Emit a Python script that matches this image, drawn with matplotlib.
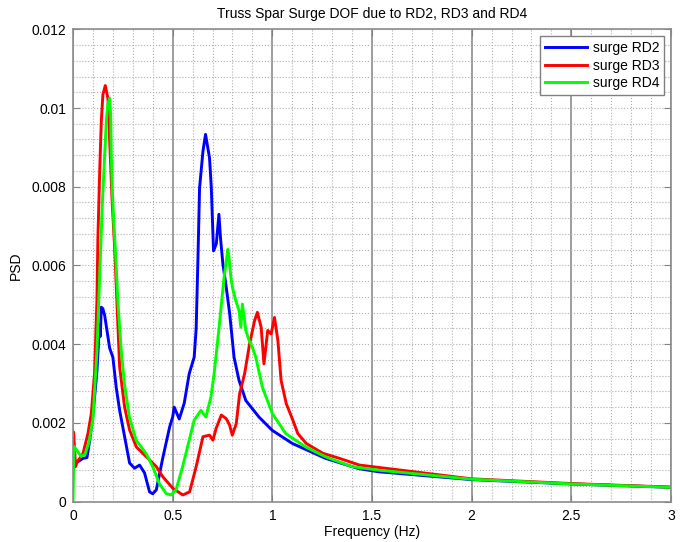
import numpy as np
import matplotlib.pyplot as plt
from matplotlib.ticker import MultipleLocator

# values (frequency in Hz, PSD)
f_rd2 = [0.0, 0.01, 0.02, 0.05, 0.07, 0.084, 0.10, 0.12, 0.133, 0.137, 0.142, 0.15, 0.159,
         0.184, 0.20, 0.217, 0.234, 0.259, 0.284, 0.309, 0.334, 0.359, 0.384, 0.40, 0.418,
         0.45, 0.485, 0.50, 0.508, 0.533, 0.558, 0.583, 0.608, 0.618, 0.627, 0.635, 0.652,
         0.665, 0.685, 0.694, 0.705, 0.719, 0.732, 0.740, 0.752, 0.769, 0.786, 0.808,
         0.833, 0.867, 0.933, 1.0, 1.1, 1.267, 1.433, 1.533, 2.0, 2.5, 3.0]
psd_rd2 = [0.0012, 0.00105, 0.001, 0.0011, 0.00112, 0.00156, 0.0022, 0.0033, 0.0045, 0.0042, 0.00494, 0.0049, 0.00473,
           0.0039, 0.00367, 0.0029, 0.00232, 0.00165, 0.00098, 0.00085, 0.00093, 0.00073, 0.00025, 0.0002, 0.0003,
           0.0011, 0.0019, 0.00215, 0.0024, 0.0021, 0.0025, 0.00325, 0.00367, 0.0044, 0.0062, 0.00797, 0.0089,
           0.00933, 0.00873, 0.00797, 0.00637, 0.00655, 0.0073, 0.0067, 0.00604, 0.00544, 0.00478, 0.00367,
           0.00308, 0.00257, 0.00215, 0.00181, 0.00148, 0.0011, 0.00084, 0.00076, 0.00056, 0.00045, 0.000365]

f_rd3 = [0.0, 0.003, 0.013, 0.02, 0.05, 0.075, 0.092, 0.108, 0.12, 0.125, 0.134, 0.142, 0.150,
         0.162, 0.175, 0.18, 0.187, 0.197, 0.209, 0.234, 0.259, 0.284, 0.318, 0.368, 0.418,
         0.451, 0.501, 0.551, 0.585, 0.618, 0.652, 0.685, 0.702, 0.718, 0.744, 0.769, 0.786,
         0.799, 0.819, 0.836, 0.861, 0.886, 0.911, 0.925, 0.944, 0.958, 0.977, 0.994, 1.011,
         1.028, 1.044, 1.07, 1.103, 1.128, 1.17, 1.253, 1.337, 1.437, 1.533, 2.0, 2.5, 3.0]
psd_rd3 = [0.0012, 0.00177, 0.00089, 0.001, 0.00122, 0.00173, 0.00224, 0.00325, 0.0051, 0.0067, 0.0084, 0.00966, 0.01034,
           0.01057, 0.01025, 0.00966, 0.0088, 0.00756, 0.00646, 0.00342, 0.0024, 0.00182, 0.00139, 0.00114, 0.00089,
           0.00063, 0.00034, 0.00017, 0.00025, 0.00089, 0.00165, 0.00169, 0.00156, 0.00186, 0.0022, 0.00211, 0.00194,
           0.00169, 0.00198, 0.00274, 0.00325, 0.00401, 0.0046, 0.00481, 0.00443, 0.0035, 0.00435, 0.00426, 0.00468,
           0.00409, 0.00308, 0.00249, 0.00207, 0.00173, 0.00148, 0.00123, 0.0011, 0.00093, 0.00087, 0.00058, 0.00046, 0.00037]

f_rd4 = [0.0, 0.005, 0.02, 0.04, 0.06, 0.08, 0.10, 0.12, 0.139, 0.147, 0.159, 0.167, 0.175,
         0.184, 0.189, 0.192, 0.197, 0.204, 0.212, 0.225, 0.242, 0.258, 0.283, 0.317, 0.367,
         0.40, 0.433, 0.467, 0.492, 0.517, 0.55, 0.583, 0.608, 0.642, 0.667, 0.692, 0.708,
         0.733, 0.758, 0.777, 0.783, 0.792, 0.80, 0.817, 0.833, 0.842, 0.85, 0.867, 0.883,
         0.90, 0.917, 0.95, 1.0, 1.067, 1.167, 1.267, 1.40, 1.533, 2.0, 2.5, 3.0]
psd_rd4 = [0.0, 0.0014, 0.0013, 0.00115, 0.0012, 0.0015, 0.0021, 0.0038, 0.00645, 0.00755, 0.0088, 0.00966, 0.0101,
           0.01025, 0.00983, 0.0088, 0.00797, 0.00713, 0.00646, 0.0051, 0.00384, 0.003, 0.00215, 0.00156, 0.00122,
           0.00089, 0.00046, 0.00021, 0.00017, 0.0003, 0.00089, 0.00156, 0.00207, 0.00232, 0.00215, 0.00266, 0.00325,
           0.00443, 0.0057, 0.00641, 0.0062, 0.0057, 0.00544, 0.0051, 0.00485, 0.00443, 0.00502, 0.00435, 0.0041,
           0.00392, 0.00367, 0.00291, 0.00224, 0.00173, 0.00139, 0.00114, 0.00089, 0.0008, 0.00057, 0.00045, 0.000365]

labels = ['surge RD2', 'surge RD3', 'surge RD4']
x_ticks = [0, 0.5, 1, 1.5, 2, 2.5, 3]
x_ticklabels = ['0', '0.5', '1', '1.5', '2', '2.5', '3']
y_ticks = [0, 0.002, 0.004, 0.006, 0.008, 0.01, 0.012]
y_ticklabels = ['0', '0.002', '0.004', '0.006', '0.008', '0.01', '0.012']

plt.rcParams['font.family'] = ['Liberation Sans', 'DejaVu Sans']

fig = plt.figure(figsize=(6.86, 5.42), dpi=100)
ax = fig.add_axes([0.1064, 0.0744, 0.8717, 0.8716])

ax.plot(f_rd2, psd_rd2, color='#0000ff', lw=2.1, label=labels[0])
ax.plot(f_rd3, psd_rd3, color='#ff0000', lw=2.1, label=labels[1])
ax.plot(f_rd4, psd_rd4, color='#00ff00', lw=2.1, label=labels[2])

ax.set_xlim(0, 3)
ax.set_ylim(0, 0.012)
ax.set_xticks(x_ticks)
ax.set_xticklabels(x_ticklabels)
ax.set_yticks(y_ticks)
ax.set_yticklabels(y_ticklabels)
ax.xaxis.set_minor_locator(MultipleLocator(0.1))
ax.yaxis.set_minor_locator(MultipleLocator(0.0004))

# matlab style grid
ax.grid(which='minor', ls=':', color='#b0b0b0', lw=0.8)
ax.yaxis.grid(which='major', ls=':', color='#b0b0b0', lw=0.8)
ax.xaxis.grid(which='major', ls='-', color='#8c8c8c', lw=1.2)
ax.set_axisbelow(True)

ax.tick_params(which='major', direction='in', length=5, top=True, right=True,
               labelsize=10, color='#808080', pad=5)
ax.tick_params(which='minor', length=0)
for s in ax.spines.values():
    s.set_color('#8c8c8c')
    s.set_linewidth(1.2)

ax.set_title('Truss Spar Surge DOF due to RD2, RD3 and RD4', fontsize=10, pad=8)
ax.set_xlabel('Frequency (Hz)', fontsize=10, labelpad=2)
ax.set_ylabel('PSD', fontsize=10, labelpad=6)

leg = ax.legend(loc='upper right', fontsize=10, fancybox=False, framealpha=1,
                edgecolor='#808080', handlelength=3.0, borderaxespad=0.5,
                labelspacing=0.25, borderpad=0.35, handletextpad=0.4)
leg.get_frame().set_linewidth(1.0)

fig.savefig('out.png', dpi=100)
